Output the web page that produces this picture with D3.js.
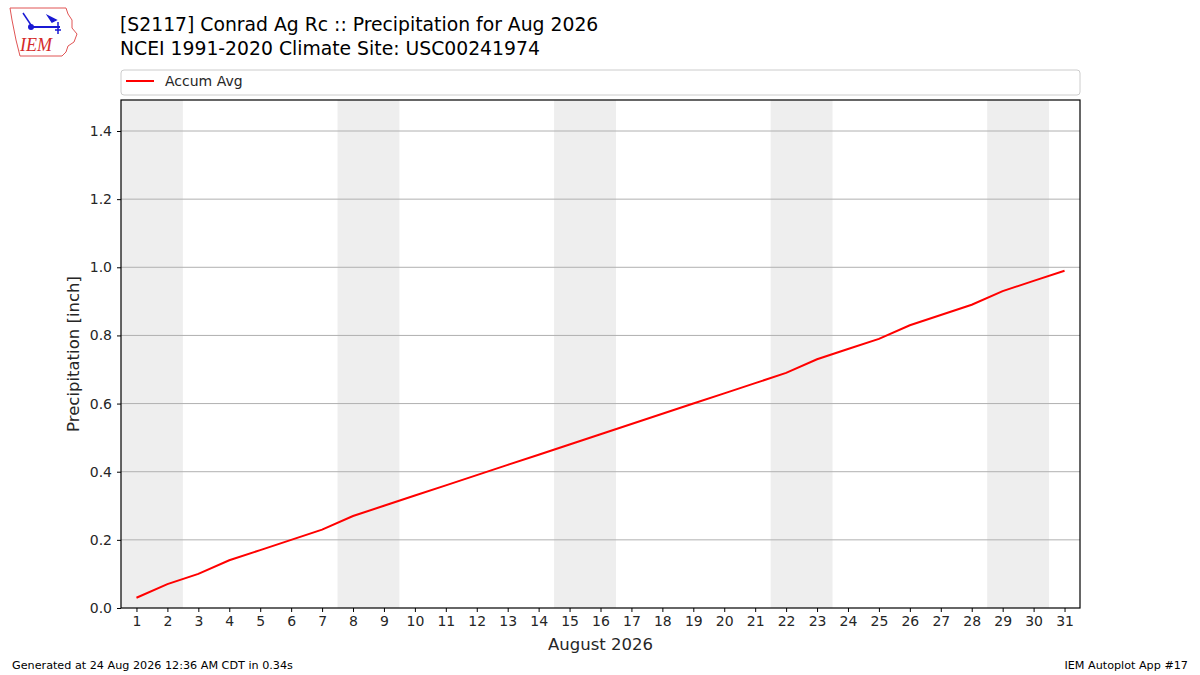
<!DOCTYPE html>
<html><head><meta charset="utf-8">
<script src="https://cdn.jsdelivr.net/npm/d3@7"></script>
<style>body{margin:0;background:#fff}svg{display:block;font-family:"DejaVu Sans",sans-serif}</style>
</head><body><svg id="c" width="1200" height="675"></svg>
<script>
const days = d3.range(1, 32);
const accumAvg = [0.03,0.07,0.10,0.14,0.17,0.20,0.23,0.27,0.30,0.33,0.36,0.39,0.42,0.45,0.48,0.51,0.54,0.57,0.60,0.63,0.66,0.69,0.73,0.76,0.79,0.83,0.86,0.89,0.93,0.96,0.99];
const weekendStarts = [1, 8, 15, 22, 29];
const yTicks = [0, 0.2, 0.4, 0.6, 0.8, 1.0, 1.2, 1.4];
const titleLines = ["[S2117] Conrad Ag Rc :: Precipitation for Aug 2026", "NCEI 1991-2020 Climate Site: USC00241974"];

const svg = d3.select("#c");
const L = 121, R = 1080, T = 100, B = 608;
const x = d3.scaleLinear().domain([0.5, 31.5]).range([L, R]);
const y = d3.scaleLinear().domain([0, 1.491]).range([B, T]);

// weekend shading
svg.append("g").selectAll("rect").data(weekendStarts).join("rect")
  .attr("x", d => x(d - 0.5)).attr("width", d => x(d + 1.5) - x(d - 0.5))
  .attr("y", T).attr("height", B - T).attr("fill", "#eeeeee");

// grid
svg.append("g").selectAll("line").data(yTicks.filter(v => v > 0)).join("line")
  .attr("x1", L).attr("x2", R).attr("y1", d => y(d)).attr("y2", d => y(d))
  .attr("stroke", "#b0b0b0").attr("stroke-width", 1);

// line
svg.append("path").datum(days.map((d, i) => [d, accumAvg[i]]))
  .attr("d", d3.line().x(d => x(d[0])).y(d => y(d[1])))
  .attr("fill", "none").attr("stroke", "red").attr("stroke-width", 2);

// frame
svg.append("rect").attr("x", L).attr("y", T).attr("width", R - L).attr("height", B - T)
  .attr("fill", "none").attr("stroke", "#000").attr("stroke-width", 1.2);

// axes
const xa = svg.append("g").attr("transform", `translate(0,${B})`)
  .call(d3.axisBottom(x).tickValues(days).tickSize(4).tickPadding(4).tickFormat(d3.format("d")));
const ya = svg.append("g").attr("transform", `translate(${L},0)`)
  .call(d3.axisLeft(y).tickValues(yTicks).tickSize(4).tickPadding(5).tickFormat(d3.format(".1f")));
[xa, ya].forEach(a => {
  a.select(".domain").remove();
  a.selectAll("text").attr("font-size", 14).attr("fill", "#262626").attr("font-family", "DejaVu Sans");
  a.selectAll("line").attr("stroke", "#000");
});

// labels
svg.append("text").attr("x", (L + R) / 2).attr("y", 650).attr("text-anchor", "middle")
  .attr("font-size", 16.5).attr("fill", "#262626").text("August 2026");
svg.append("text").attr("transform", `translate(79,${(T + B) / 2}) rotate(-90)`).attr("text-anchor", "middle")
  .attr("font-size", 16.5).attr("fill", "#262626").text("Precipitation [inch]");

// title
svg.selectAll("text.title").data(titleLines).join("text").attr("class", "title")
  .attr("x", 120).attr("y", (d, i) => 31 + i * 24).attr("font-size", 18.8).attr("fill", "#000").text(d => d);

// legend
svg.append("rect").attr("x", 121).attr("y", 70).attr("width", 959).attr("height", 25).attr("rx", 3)
  .attr("fill", "#fff").attr("stroke", "#cccccc");
svg.append("line").attr("x1", 126).attr("x2", 154).attr("y1", 81).attr("y2", 81).attr("stroke", "red").attr("stroke-width", 2);
svg.append("text").attr("x", 165).attr("y", 86).attr("font-size", 14).attr("fill", "#262626").text("Accum Avg");

// footer
svg.append("text").attr("x", 12).attr("y", 669).attr("font-size", 11.2).attr("fill", "#000").text("Generated at 24 Aug 2026 12:36 AM CDT in 0.34s");
svg.append("text").attr("x", 1188).attr("y", 669).attr("text-anchor", "end").attr("font-size", 11.2).attr("fill", "#000").text("IEM Autoplot App #17");

// logo
const lg = svg.append("g");
lg.append("path").attr("d", "M10,8 L66,8 L68,14 L72,20 L72,28 L77,34 L74,42 L68,46 L66,52 L62,56 L20,56 L18,48 L16,40 L14,30 L12,20 Z")
  .attr("fill", "#fff").attr("stroke", "#e05555").attr("stroke-width", 1);
lg.append("text").attr("x", 20).attr("y", 51).attr("font-family", "Liberation Serif").attr("font-style", "italic")
  .attr("font-size", 18).attr("fill", "#d42a2a").text("IEM");
lg.append("line").attr("x1", 31).attr("x2", 60).attr("y1", 27).attr("y2", 27).attr("stroke", "#1a1ad4").attr("stroke-width", 2);
lg.append("circle").attr("cx", 31).attr("cy", 27).attr("r", 3).attr("fill", "#1a1ad4");
lg.append("path").attr("d", "M23,13 L31,25 M48,16 L56,20 L52,22 Z M58,22 L58,34 M55,30 L61,30").attr("stroke", "#1a1ad4").attr("stroke-width", 1.5).attr("fill", "#1a1ad4");
</script></body></html>
